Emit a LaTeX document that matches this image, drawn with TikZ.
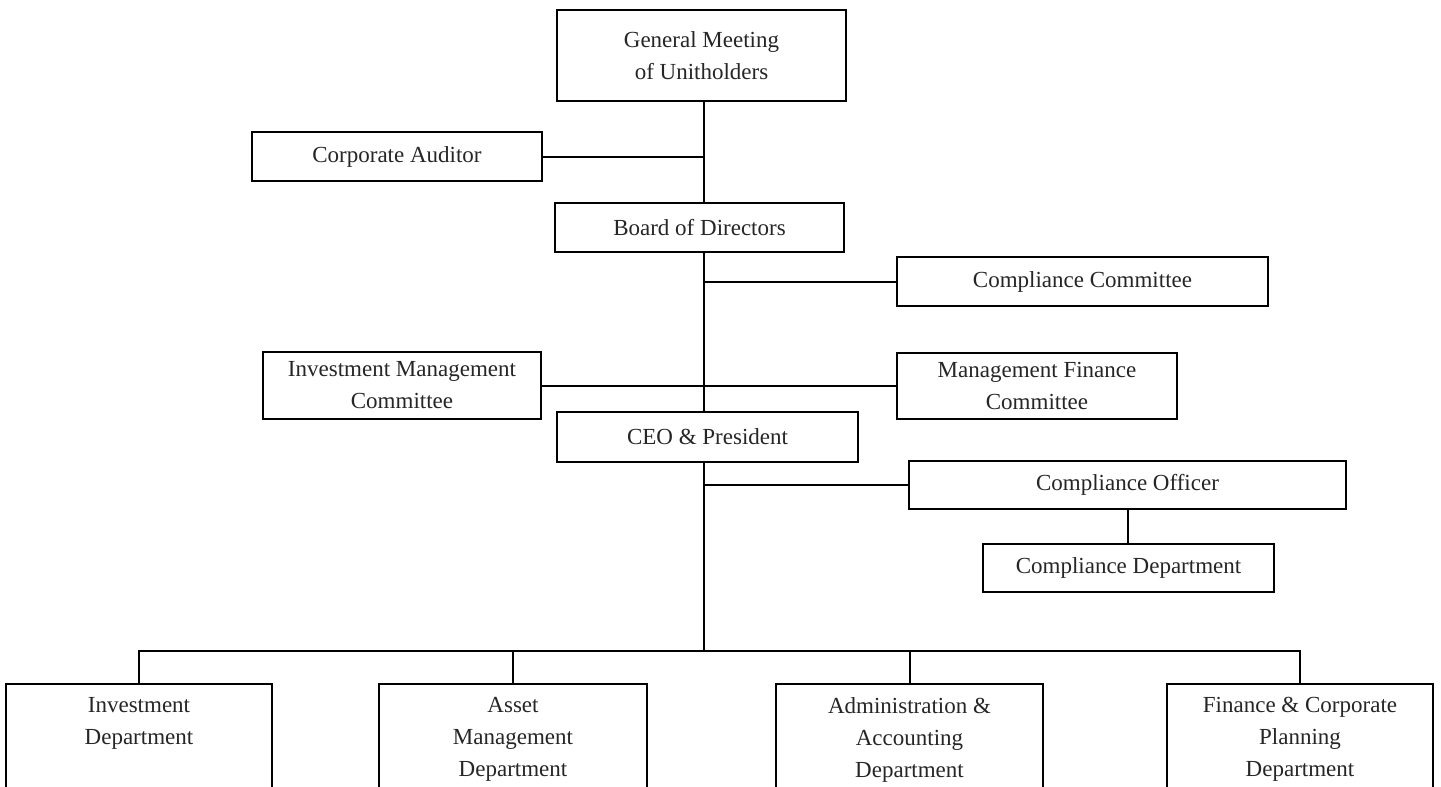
\documentclass[tikz,border=0pt]{standalone}
\usepackage{fontspec}
\setmainfont{Liberation Serif}
\begin{document}
\begin{tikzpicture}[x=0.5pt,y=-0.5pt,
  box/.style={draw, line width=1.1pt, fill=white, inner sep=0pt, align=center,
    text=black!85, font=\fontsize{11.5pt}{16pt}\selectfont},
  link/.style={line width=1pt}]
\useasboundingbox (0,0) rectangle (1441,787);
\clip (0,0) rectangle (1441,787);
% top chain
\node[box, minimum width=144.5pt, minimum height=45.5pt] (gm) at (701.5,55.5) {General Meeting\\of Unitholders};
\node[box, minimum width=145pt, minimum height=24.5pt] (aud) at (397,156.5) {Corporate Auditor};
\node[box, minimum width=144.5pt, minimum height=24.5pt] (bod) at (699.5,227.5) {Board of Directors};
\node[box, minimum width=185.5pt, minimum height=24.5pt] (cc) at (1082.5,281.5) {\raisebox{-3pt}{Compliance Committee}};
\node[box, minimum width=139pt, minimum height=33.5pt] (imc) at (402,385.5) {Investment Management\\Committee};
\node[box, minimum width=140pt, minimum height=33pt] (mfc) at (1037,386) {Management Finance\\Committee};
\node[box, minimum width=150.5pt, minimum height=25pt] (ceo) at (707.5,437) {CEO \& President};
\node[box, minimum width=218.5pt, minimum height=24pt] (co) at (1127.5,485) {Compliance Officer};
\node[box, minimum width=145.5pt, minimum height=24pt] (cd) at (1128.5,568) {Compliance Department};
% bottom departments
\node[box, anchor=north, inner ysep=6.5pt] (inv) at (139,683) {\parbox[c][70pt][t]{133pt}{\centering Investment\\Department}};
\node[box, anchor=north, inner ysep=6.5pt] (asset) at (513,683) {\parbox[c][70pt][t]{134pt}{\centering Asset\\Management\\Department}};
\node[box, anchor=north, inner ysep=6.5pt] (admin) at (909.5,683) {\parbox[c][70pt][t]{133.5pt}{\centering Administration \&\\Accounting\\Department}};
\node[box, anchor=north, inner ysep=6.5pt] (fin) at (1300,683) {\parbox[c][70pt][t]{133pt}{\centering Finance \& Corporate\\Planning\\Department}};
% connectors
\coordinate (tt) at (704,0);
\coordinate (bus) at (704,651);
\draw[link] (gm.south -| tt) -- (bod.north -| tt);
\draw[link] (bod.south -| tt) -- (ceo.north -| tt);
\draw[link] (ceo.south -| tt) -- (bus);
\draw[link] (aud.east) -- (aud.east -| tt);
\draw[link] (cc.west) -- (cc.west -| tt);
\draw[link] (imc.east) -- (imc.east -| mfc.west);
\draw[link] (co.west) -- (co.west -| tt);
\draw[link] (co.south) -- (co.south |- cd.north);
\draw[link] (inv.north) |- (bus) -| (fin.north);
\draw[link] (asset.north) -- (asset.north |- bus);
\draw[link] (admin.north) -- (admin.north |- bus);
\end{tikzpicture}
\end{document}
